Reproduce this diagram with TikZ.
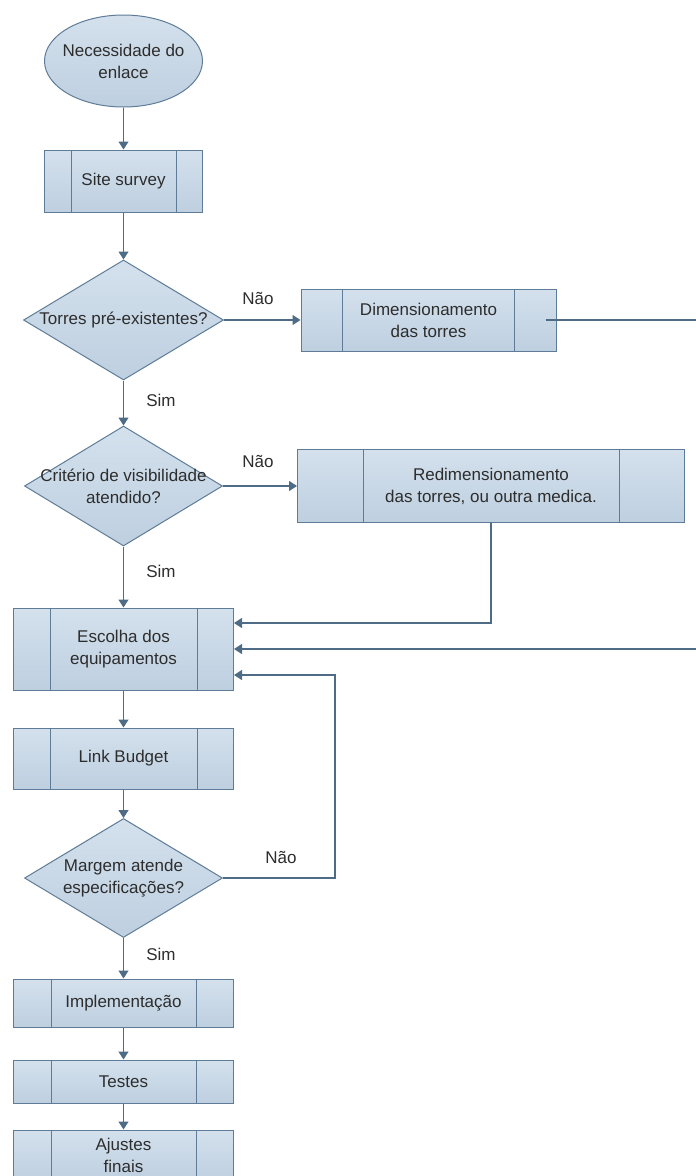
\documentclass[tikz,border=0pt]{standalone}
\usepackage{fontspec}
\setmainfont{Liberation Sans}
\usepackage{tikz}
\usetikzlibrary{arrows.meta, shapes.geometric}

\definecolor{BoxTop}{RGB}{212,225,237}
\definecolor{BoxBottom}{RGB}{190,207,224}
\definecolor{BoxEdge}{RGB}{94,124,152}
\definecolor{FlowLine}{RGB}{78,108,134}
\definecolor{TextGray}{RGB}{45,45,45}

\begin{document}
\begin{tikzpicture}[x=1pt, y=-1pt,
	font=\fontsize{17}{22}\selectfont, text=TextGray,
	flowbox/.style={rectangle, draw=BoxEdge, line width=1pt, top color=BoxTop, bottom color=BoxBottom, inner sep=0pt, align=center},
	startnode/.style={ellipse, draw=BoxEdge, line width=1pt, top color=BoxTop, bottom color=BoxBottom, inner sep=0pt},
	decision/.style={diamond, draw=BoxEdge, line width=1pt, top color=BoxTop, bottom color=BoxBottom, inner sep=0pt},
	flow/.style={draw=FlowLine, line width=1.2pt, -{Triangle[width=10pt,length=8pt]}},
	answer/.style={inner sep=0pt}
]
	\clip (0,0) rectangle (696,1176);
	% main column
	\node (start) [startnode, minimum width=158pt, minimum height=92pt,
		label={[align=center]center:Necessidade do\\enlace}] at (123.5,61) {};
	\node (site) [flowbox, minimum width=158pt, minimum height=62pt] at (123.5,181) {Site survey};
	\node (torres) [decision, minimum width=200pt, minimum height=120pt,
		label={center:Torres pré-existentes?}] at (123.5,320) {};
	\node (dim) [flowbox, minimum width=255pt, minimum height=62pt] at (428.5,320) {Dimensionamento\\das torres};
	\node (criterio) [decision, minimum width=198pt, minimum height=120pt,
		label={[align=center]center:Critério de visibilidade\\atendido?}] at (123.5,486) {};
	\node (redim) [flowbox, minimum width=387pt, minimum height=73pt] at (491,486) {Redimensionamento\\das torres, ou outra medica.};
	\node (escolha) [flowbox, minimum width=220pt, minimum height=82pt] at (123.5,649) {Escolha dos\\equipamentos};
	\node (link) [flowbox, minimum width=220pt, minimum height=61pt] at (123.5,758.5) {Link Budget};
	\node (margem) [decision, minimum width=198pt, minimum height=119pt,
		label={[align=center]center:Margem atende\\especificações?}] at (123.5,878) {};
	\node (impl) [flowbox, minimum width=220pt, minimum height=48pt] at (123.5,1003) {Implementação};
	\node (testes) [flowbox, minimum width=220pt, minimum height=43pt] at (123.5,1081.5) {Testes};
	\node (ajustes) [flowbox, minimum width=220pt, minimum height=50pt] at (123.5,1155) {Ajustes\\finais};
	\foreach \nd/\gap in {site/27, dim/42, redim/66, escolha/37, link/37, impl/38, testes/38, ajustes/38}
		\draw[BoxEdge, line width=1pt] ([xshift=\gap pt]\nd.north west) -- ([xshift=\gap pt]\nd.south west)
			([xshift=-\gap pt]\nd.north east) -- ([xshift=-\gap pt]\nd.south east);
	% answers
	\node (naoA) [answer] at (258,298) {Não};
	\node (simA) [answer] at (161,400) {Sim};
	\node (naoB) [answer] at (258,461) {Não};
	\node (simB) [answer] at (161,571) {Sim};
	\node (naoC) [answer] at (281,857) {Não};
	\node (simC) [answer] at (161,954) {Sim};
	% connectors
	\draw[flow] (start) -- (site);
	\draw[flow] (site) -- (torres);
	\draw[flow] (torres) -- (dim);
	\draw[flow] (torres) -- (criterio);
	\draw[flow] (criterio) -- (redim);
	\draw[flow] (criterio) -- (escolha);
	\draw[flow] (escolha) -- (link);
	\draw[flow] (link) -- (margem);
	\draw[flow] (margem) -- (impl);
	\draw[flow] (impl) -- (testes);
	\draw[flow] (testes) -- (ajustes);
	\coordinate (dimout) at ([xshift=-11pt]dim.east);
	\coordinate (offpage) at (699,649);
	\coordinate (loopB) at (335,675);
	\draw[flow] (redim.south) |- ([yshift=26pt]escolha.east);
	\draw[flow] (dimout) -| (offpage) -- (escolha.east);
	\draw[flow] (margem.east) -| (loopB) -- ([yshift=-26pt]escolha.east);
\end{tikzpicture}
\end{document}
